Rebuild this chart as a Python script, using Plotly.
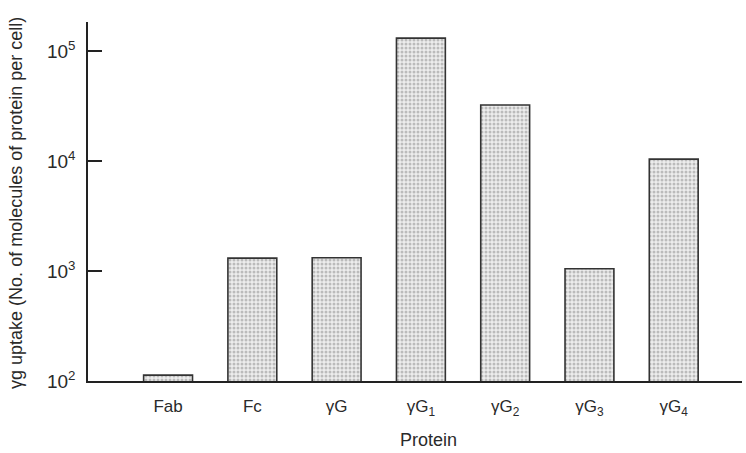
import plotly.graph_objects as go

categories = ["Fab", "Fc", "γG", "γG<sub>1</sub>", "γG<sub>2</sub>", "γG<sub>3</sub>", "γG<sub>4</sub>"]
values = [113, 1310, 1320, 131000, 32300, 1050, 10400]
ytick_vals = [100, 1000, 10000, 100000]
ytick_text = ["10<sup>2</sup>", "10<sup>3</sup>", "10<sup>4</sup>", "10<sup>5</sup>"]

FONT = "Liberation Sans, Arial, sans-serif"

fig = go.Figure()
fig.add_trace(go.Bar(
    x=list(range(len(categories))),
    y=values,
    width=0.58,
    marker=dict(
        color="#dcdcdc",
        line=dict(color="#333333", width=1.6),
        pattern=dict(shape=".", fgcolor="#8a8a8a", bgcolor="#ededed", size=4, solidity=0.45),
    ),
    showlegend=False,
))

fig.update_layout(
    width=746, height=453,
    margin=dict(l=88, r=4, t=22, b=72),
    paper_bgcolor="white", plot_bgcolor="white",
    font=dict(family=FONT, size=17, color="#2a2a2a"),
    bargap=0.4,
)
fig.update_xaxes(
    range=[-0.95, 6.81],
    tickvals=list(range(len(categories))),
    ticktext=categories,
    showline=True, linecolor="#222222", linewidth=1.5,
    showgrid=False, zeroline=False, ticks="",
    ticklabelstandoff=9,
    tickfont=dict(size=17),
)
fig.update_yaxes(
    type="log",
    range=[2, 5.264],
    tickvals=ytick_vals,
    ticktext=ytick_text,
    ticks="inside", ticklen=14, tickwidth=1.5, tickcolor="#222222",
    showline=True, linecolor="#222222", linewidth=1.5,
    showgrid=False, zeroline=False,
    ticklabelstandoff=7,
    tickfont=dict(size=19),
)
fig.add_annotation(
    text="γg uptake (No. of molecules of protein per cell)",
    xref="paper", yref="paper", x=0, y=0.496, xshift=-72,
    textangle=-90, showarrow=False, font=dict(size=18),
    xanchor="center", yanchor="middle",
)
fig.add_annotation(
    text="Protein",
    xref="paper", yref="paper", x=0.52, y=-0.164,
    showarrow=False, font=dict(size=18),
    xanchor="center", yanchor="middle",
)
fig.write_html("out.html")
